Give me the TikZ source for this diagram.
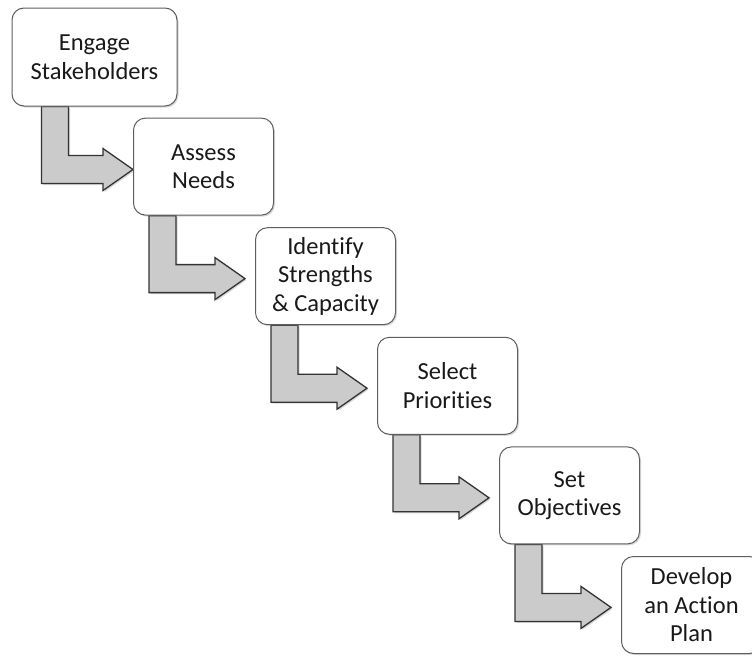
\documentclass[tikz,border=0pt]{standalone}
\usepackage{fontspec}
\setmainfont[Ligatures=NoCommon]{Carlito}
\usetikzlibrary{calc, shadows, backgrounds}

\definecolor{boxline}{HTML}{5E5E5E}
\definecolor{arrowfill}{HTML}{CBCBCB}
\definecolor{arrowline}{HTML}{333333}

\tikzstyle{stepbox} = [rectangle, rounded corners=12pt, minimum width=140pt, minimum height=97pt, inner sep=0pt, align=center, draw=boxline, line width=1pt, fill=white, text=black!90, font=\fontsize{24.5}{28.5}\selectfont, drop shadow={shadow xshift=1.5pt, shadow yshift=-1.5pt, opacity=0.3}]
\tikzstyle{flowarrow} = [draw=arrowline, line width=1.3pt, fill=arrowfill, line join=miter, drop shadow={shadow xshift=1.5pt, shadow yshift=-1.5pt, opacity=0.3}]

% bent arrow: source, target, stem offset, gap before target
\newcommand{\bentarrow}[4]{%
  \draw [flowarrow] let \p1=(#1.south west), \p2=(#2.west) in
    (\x1+#3,\y1) -- (\x1+#3+27pt,\y1) -- (\x1+#3+27pt,\y1-49pt)
    -- (\x2-#4-30pt,\y1-49pt) -- (\x2-#4-30pt,\y1-42pt) -- (\x2-#4,\y1-63pt)
    -- (\x2-#4-30pt,\y1-84pt) -- (\x2-#4-30pt,\y1-77pt) -- (\x1+#3,\y1-77pt) -- cycle;
}

\begin{document}
\begin{tikzpicture}[node distance=109.6pt]
   	\useasboundingbox (0,0) rectangle (752pt,-656pt);
   	
   	\node (engage) [stepbox, minimum width=165pt, minimum height=98pt] at (94.5pt,-57pt) {Engage\\Stakeholders};
   	\node (assess) [stepbox, below of=engage, xshift=109pt] {Assess\\Needs};
   	\node (identify) [stepbox, below of=assess, xshift=122pt] {Identify\\Strengths\\\& Capacity};
   	\node (select) [stepbox, below of=identify, xshift=122pt] {Select\\Priorities};
   	\node (objectives) [stepbox, below of=select, xshift=122pt] {Set\\Objectives};
   	\node (plan) [stepbox, below of=objectives, xshift=122pt] {Develop\\an Action\\Plan};
   	
   	\begin{scope}[on background layer]
   	\bentarrow{engage}{assess}{30pt}{0pt}
   	\bentarrow{assess}{identify}{16pt}{10pt}
   	\bentarrow{identify}{select}{16pt}{10pt}
   	\bentarrow{select}{objectives}{16pt}{10pt}
   	\bentarrow{objectives}{plan}{16pt}{10pt}
   	\end{scope}
   	
\end{tikzpicture}
\end{document}
